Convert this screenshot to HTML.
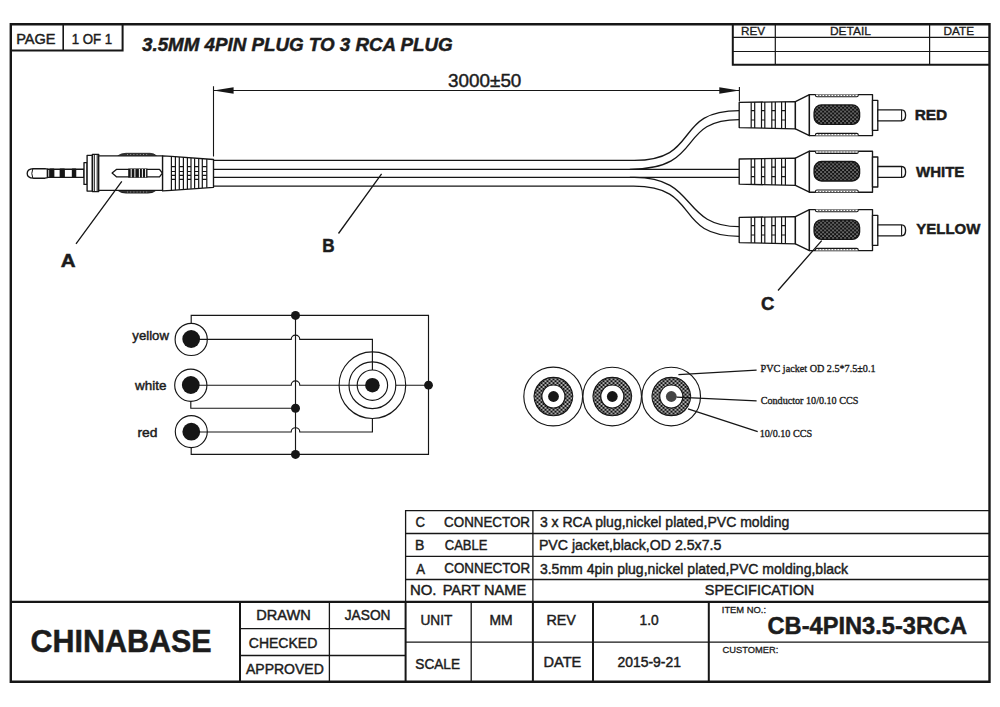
<!DOCTYPE html>
<html><head><meta charset="utf-8"><style>
html,body{margin:0;padding:0;background:#fff;}
body{width:1000px;height:707px;overflow:hidden;}
svg{display:block;}
text{font-family:"Liberation Sans",sans-serif;fill:#1c1c1c;}
</style></head><body>
<svg width="1000" height="707" viewBox="0 0 1000 707">
<defs>
<pattern id="dots" width="4" height="3.8" patternUnits="userSpaceOnUse" x="814.1" y="104.9">
<rect width="4" height="3.8" fill="#121212"/>
<ellipse cx="1" cy="0.95" rx="0.6" ry="0.8" fill="#f2f2f2"/>
<ellipse cx="3" cy="2.85" rx="0.6" ry="0.8" fill="#f2f2f2"/>
</pattern>
<pattern id="dots2" width="4" height="3.8" patternUnits="userSpaceOnUse" x="0.5" y="0.3">
<rect width="4" height="3.8" fill="#121212"/>
<ellipse cx="1" cy="0.95" rx="0.9" ry="0.85" fill="#fafafa"/>
<ellipse cx="3" cy="2.85" rx="0.9" ry="0.85" fill="#fafafa"/>
</pattern>
</defs>
<rect width="1000" height="707" fill="#fff"/>

<!-- ===== FRAME ===== -->
<g fill="none" stroke="#161616">
<path d="M10.8 24.3H989.5V681.8H10.8Z" stroke-width="2.4"/>
<!-- page box -->
<path d="M10.8 50.6H122.6V24.3" stroke-width="2"/>
<path d="M63.2 24.3V50.6" stroke-width="1.6"/>
<!-- rev table -->
<path d="M732.8 24.3V64.8H989.5" stroke-width="2"/>
<path d="M732.8 37.4H989.5M732.8 51.5H989.5M775.3 24.3V64.8M929.6 24.3V64.8" stroke-width="1.2"/>
</g>

<!-- ===== DIMENSION ===== -->
<g stroke="#161616" fill="none" stroke-width="1.1">
<path d="M213.5 86.2V156.5M739.4 87V101.5M213.5 90.5H739.4"/>
</g>
<path d="M213.5 90.5L233.6 87.2V93.8Z M739.4 90.5L719.3 87.2V93.8Z" fill="#161616"/>

<!-- ===== 3.5mm PLUG ===== -->
<g stroke="#161616" fill="#fff" stroke-width="1.35" stroke-linejoin="round">
<!-- tip -->
<path d="M47.5 169.1L45 168.7H33.2Q27.2 169.2 27.2 173.4Q27.2 177.7 33.2 178.2H45L47.5 177.6Z"/>
<path d="M32.8 168.8Q30.8 173.4 32.8 178.1" fill="none" stroke-width="1"/>
<rect x="47.5" y="169.2" width="36.5" height="8.1"/>
<path d="M49.3 169.2V177.3" fill="none" stroke-width="1"/>
<rect x="50.3" y="169.2" width="3.4" height="8.1" fill="#161616"/>
<rect x="60.3" y="169.2" width="3.9" height="8.1" fill="#161616"/>
<rect x="72.5" y="169.2" width="3.1" height="8.1" fill="#161616"/>
<!-- flange -->
<rect x="84" y="162.6" width="3.1" height="21.8"/>
<!-- body -->
<rect x="87.1" y="155.3" width="5.3" height="35.8"/>
<rect x="92.4" y="154.3" width="6.3" height="37.3"/>
<path d="M94.3 154.3V191.6M97.2 154.3V191.6" fill="none" stroke-width="1"/>
<!-- bumps -->
<path d="M117.8 155.8Q121 153.3 126 153.3H150Q154 153.3 156.5 155.8Z" fill="#333" stroke-width="0.8"/>
<path d="M117.8 190.4Q121 193.1 126 193.1H148Q153 193.1 156 190.4Z" fill="#333" stroke-width="0.8"/>
<path d="M127 154.5H149M127 192H147.5" stroke="#bbb" stroke-width="0.7" stroke-dasharray="1 2.2" fill="none"/>
<rect x="98.7" y="155.8" width="63.9" height="34.6"/>
<!-- slot -->
<path d="M112.1 173.1L116.7 169.3H159.5L162.4 173.1L159.5 176.9H116.7Z"/>
<rect x="128.2" y="168.6" width="19.3" height="9" fill="#161616" stroke="none"/>
<path d="M131.2 169V177.3M134.9 169V177.3M139.4 169V177.3M142.4 169V177.3M145.6 169V177.3" stroke="#fff" stroke-width="1"/>
<!-- strain relief -->
<path d="M162.6 155.8L171.4 156.4L213.5 159.5V187.3L171.4 190.3L162.6 190.9Z"/>
<path d="M171.4 156.4V190.3M175.4 156.7V190.0M179.3 157V189.7M183.4 157.3V189.4M187.4 157.6V189.1M191 157.9V188.8M194.6 158.2V188.6M198.7 158.5V188.3M202.3 158.7V188M206.8 159V187.7" fill="none" stroke-width="1.2"/>
<path d="M171.4 166.6H175.4M171.4 171.5H175.4M171.4 175.4H175.4M171.4 179.3H175.4
M179.3 166.6H183.4M179.3 171.5H183.4M179.3 175.4H183.4M179.3 179.3H183.4
M187.4 166.6H191M187.4 171.5H191M187.4 175.4H191M187.4 179.3H191
M194.6 166.6H198.7M194.6 171.5H198.7M194.6 175.4H198.7M194.6 179.3H198.7
M202.3 166.6H206.8M202.3 171.5H206.8M202.3 175.4H206.8M202.3 179.3H206.8" fill="none" stroke-width="1.2"/>
</g>

<!-- ===== CABLE ===== -->
<g stroke="#161616" fill="none" stroke-width="1.3">
<path d="M213.5 160.4H634.2C701.4 160.4 672 110.6 739.2 110.6"/>
<path d="M213.5 169.3H629.8C706 169.3 675.2 119.6 739.2 119.6"/>
<path d="M629.8 169.3H739.2M629.8 177.4H739.2"/>
<path d="M213.5 177.4H634.4C698.6 177.4 679.9 226.7 739.2 226.7"/>
<path d="M213.5 186.2H633.6C701.9 186.2 672.3 236.3 739.2 236.3"/>
</g>

<!-- ===== RCA PLUGS ===== -->
<g id="rca" stroke="#161616" fill="#fff" stroke-width="1.35" stroke-linejoin="round">
<path d="M739.2 102.4L795.4 101.6V128.8L739.2 127.6Z"/>
<path d="M751.2 102.2V127.8M754.7 102.1V127.9M761.5 102.1V128M764.8 102V128.1M771.8 102V128.2M775.3 101.9V128.3M781.6 101.9V128.4M785.4 101.8V128.5" fill="none" stroke-width="1.2"/>
<path d="M751.2 110.6H754.7M751.2 120H754.7M761.5 110.6H764.8M761.5 120H764.8M771.8 110.6H775.3M771.8 120H775.3M781.6 110.6H785.4M781.6 120H785.4" fill="none" stroke-width="1.2"/>
<path d="M795.4 101.6L809.4 94.6V135.6L795.4 128.8Z"/>
<rect x="809.4" y="94.6" width="63.1" height="41"/>
<rect x="814.1" y="104.9" width="45.5" height="19.5" rx="7.5" fill="url(#dots)"/>
<path d="M815.5 94.6V95.6Q815.5 96.8 817 96.8H856.8Q858.2 96.8 858.2 95.6V94.6" fill="#fff" stroke-width="1.1"/>
<path d="M815.5 135.6V134.6Q815.5 133.4 817 133.4H856.8Q858.2 133.4 858.2 134.6V135.6" fill="#fff" stroke-width="1.1"/>
<path d="M818 95.4H856M818 134.8H856" stroke="#555" stroke-width="0.9" stroke-dasharray="1.6 1.4" fill="none"/>
<rect x="872.5" y="100.4" width="5.3" height="30"/>
<path d="M877.8 109.9H901.6Q905.6 109.9 905.6 115.3Q905.6 120.8 901.6 120.8H877.8Z"/>
<path d="M901.6 109.9V120.8" fill="none" stroke-width="1.1"/>
</g>
<use href="#rca" transform="translate(0,56.6)"/>
<use href="#rca" transform="translate(0,115)"/>

<!-- ===== LEADERS ===== -->
<g stroke="#161616" stroke-width="1.3" fill="none">
<path d="M121.8 181.3L76 243.8M381.6 173.9L338.5 233.5M821.7 240.6L778 290.5"/>
</g>

<!-- ===== SCHEMATIC ===== -->
<g stroke="#161616" stroke-width="1.15" fill="none">
<path d="M191.2 323.3V315.4H428.5V454.4H191.2V447.6"/>
<path d="M190.8 401.2V408.2H295.5"/>
<path d="M295.5 315.4V454.4"/>
<path d="M191.2 339.4H291.2A4.3 4.3 0 0 1 299.8 339.4H372.4V370"/>
<path d="M190.8 385.2H291.2A4.3 4.3 0 0 1 299.8 385.2H366"/>
<path d="M191 432H291.2A4.3 4.3 0 0 1 299.8 432H372.4V418.5"/>
<path d="M395.8 385.2H428.5"/>
<circle cx="191.2" cy="339.4" r="16.1"/>
<circle cx="190.8" cy="385.2" r="16.1"/>
<circle cx="191.3" cy="431.6" r="16"/>
<circle cx="372.4" cy="385.2" r="33.3"/>
<circle cx="372.4" cy="385.2" r="23.4"/>
<circle cx="372.4" cy="385.2" r="15.2"/>
</g>
<g fill="#161616">
<circle cx="191.2" cy="339" r="8.9"/>
<circle cx="190.8" cy="385" r="8.9"/>
<circle cx="191.3" cy="431.7" r="8.9"/>
<circle cx="372.4" cy="385.2" r="7.3"/>
<circle cx="295.5" cy="315.4" r="4.5"/>
<circle cx="295.5" cy="408.2" r="4.5"/>
<circle cx="295.5" cy="454.4" r="4.5"/>
<circle cx="428.5" cy="385.2" r="4.4"/>
</g>

<!-- ===== CROSS SECTIONS ===== -->
<g stroke="#161616" stroke-width="1.15">
<circle cx="553.2" cy="396.5" r="29.4" fill="#fff"/>
<circle cx="612.2" cy="396.5" r="29.3" fill="#fff"/>
<circle cx="671.2" cy="396.5" r="29.3" fill="#fff"/>
<path d="M553.4 377.3A19.2 19.2 0 1 1 553.39 377.3Z M553.4 385.0A11.5 11.5 0 1 0 553.41 385.0Z" fill="url(#dots2)" fill-rule="evenodd"/>
<path d="M612.3 377.3A19.2 19.2 0 1 1 612.29 377.3Z M612.3 385.0A11.5 11.5 0 1 0 612.31 385.0Z" fill="url(#dots2)" fill-rule="evenodd"/>
<path d="M671.3 377.3A19.2 19.2 0 1 1 671.29 377.3Z M671.3 385.0A11.5 11.5 0 1 0 671.31 385.0Z" fill="url(#dots2)" fill-rule="evenodd"/>
</g>
<g fill="#161616">
<circle cx="553.5" cy="396.5" r="5.4"/>
<circle cx="612.3" cy="396.5" r="5.4"/>
<circle cx="671.3" cy="396.5" r="5.4" fill="#444"/>
</g>
<g stroke="#161616" stroke-width="1.3" fill="none">
<path d="M678.4 374.7L756.6 370.1M676.5 397.1L756.6 400.8M688 408.9L757.7 431.6"/>
</g>

<!-- ===== PARTS TABLE ===== -->
<g stroke="#161616" fill="none">
<path d="M405.6 601.5V510.6H989.5" stroke-width="1.3"/>
<path d="M405.6 533.5H989.5M405.6 556.3H989.5M405.6 579.5H989.5M532.9 510.6V601.5" stroke-width="1.3"/>
</g>

<!-- ===== TITLE BLOCK ===== -->
<g stroke="#161616" fill="none">
<path d="M10.8 601.9H989.5" stroke-width="2.1"/>
<path d="M240 601.9V681.8M405.6 601.9V681.8M532.9 601.9V681.8M593 601.9V681.8M708.8 601.9V681.8" stroke-width="2"/>
<path d="M329.4 601.9V681.8M471.2 601.9V681.8" stroke-width="1.3"/>
<path d="M240 628.6H405.6M240 655.5H405.6M405.6 642.2H989.5" stroke-width="1.3"/>
</g>

<text x="16.17" y="43.8" font-size="14" stroke="#1c1c1c" stroke-width="0.45" textLength="39.35" lengthAdjust="spacingAndGlyphs">PAGE</text>
<text x="71.65" y="43.8" font-size="14" stroke="#1c1c1c" stroke-width="0.45" textLength="40.53" lengthAdjust="spacingAndGlyphs">1 OF 1</text>
<text x="142.05" y="50.9" font-size="19" font-weight="bold" font-style="italic" stroke="#1c1c1c" stroke-width="0.5" textLength="310.60" lengthAdjust="spacingAndGlyphs">3.5MM 4PIN PLUG TO 3 RCA PLUG</text>
<text x="741.10" y="34.9" font-size="10.5" stroke="#1c1c1c" stroke-width="0.3" textLength="24.10" lengthAdjust="spacingAndGlyphs">REV</text>
<text x="829.90" y="34.9" font-size="10.5" stroke="#1c1c1c" stroke-width="0.3" textLength="40.96" lengthAdjust="spacingAndGlyphs">DETAIL</text>
<text x="943.41" y="34.9" font-size="10.5" stroke="#1c1c1c" stroke-width="0.3" textLength="30.62" lengthAdjust="spacingAndGlyphs">DATE</text>
<text x="448.06" y="87.3" font-size="18.5" stroke="#1c1c1c" stroke-width="0.45" textLength="73.32" lengthAdjust="spacingAndGlyphs">3000±50</text>
<text x="914.65" y="119.8" font-size="14.5" font-weight="bold" stroke="#1c1c1c" stroke-width="0.45" textLength="32.61" lengthAdjust="spacingAndGlyphs">RED</text>
<text x="915.97" y="177.2" font-size="14.5" font-weight="bold" stroke="#1c1c1c" stroke-width="0.45" textLength="48.34" lengthAdjust="spacingAndGlyphs">WHITE</text>
<text x="916.33" y="234.1" font-size="14.5" font-weight="bold" stroke="#1c1c1c" stroke-width="0.45" textLength="64.08" lengthAdjust="spacingAndGlyphs">YELLOW</text>
<text x="60.89" y="266.8" font-size="19" font-weight="bold" stroke="#1c1c1c" stroke-width="0.5" textLength="14.85" lengthAdjust="spacingAndGlyphs">A</text>
<text x="322.22" y="251.7" font-size="18.5" font-weight="bold" stroke="#1c1c1c" stroke-width="0.5" textLength="12.35" lengthAdjust="spacingAndGlyphs">B</text>
<text x="761.08" y="310.3" font-size="18.5" font-weight="bold" stroke="#1c1c1c" stroke-width="0.5" textLength="13.38" lengthAdjust="spacingAndGlyphs">C</text>
<text x="132.35" y="339.7" font-size="13" stroke="#1c1c1c" stroke-width="0.45" textLength="36.54" lengthAdjust="spacingAndGlyphs">yellow</text>
<text x="135.12" y="389.9" font-size="13" stroke="#1c1c1c" stroke-width="0.45" textLength="31.40" lengthAdjust="spacingAndGlyphs">white</text>
<text x="137.43" y="437" font-size="13" stroke="#1c1c1c" stroke-width="0.45" textLength="20.01" lengthAdjust="spacingAndGlyphs">red</text>
<text x="760.59" y="372.3" font-size="10.6" style="font-family:'Liberation Serif',serif" stroke="#1c1c1c" stroke-width="0.35" textLength="114.96" lengthAdjust="spacingAndGlyphs">PVC jacket OD 2.5*7.5±0.1</text>
<text x="760.69" y="404.3" font-size="10.6" style="font-family:'Liberation Serif',serif" stroke="#1c1c1c" stroke-width="0.35" textLength="97.69" lengthAdjust="spacingAndGlyphs">Conductor 10/0.10 CCS</text>
<text x="759.70" y="436.5" font-size="10.6" style="font-family:'Liberation Serif',serif" stroke="#1c1c1c" stroke-width="0.35" textLength="52.49" lengthAdjust="spacingAndGlyphs">10/0.10 CCS</text>
<text x="415.47" y="526.7" font-size="14.7" stroke="#1c1c1c" stroke-width="0.45" textLength="9.48" lengthAdjust="spacingAndGlyphs">C</text>
<text x="444.12" y="526.8" font-size="14" stroke="#1c1c1c" stroke-width="0.45" textLength="85.83" lengthAdjust="spacingAndGlyphs">CONNECTOR</text>
<text x="414.88" y="550.4" font-size="14.7" stroke="#1c1c1c" stroke-width="0.45" textLength="9.37" lengthAdjust="spacingAndGlyphs">B</text>
<text x="444.74" y="550.1" font-size="14" stroke="#1c1c1c" stroke-width="0.45" textLength="42.67" lengthAdjust="spacingAndGlyphs">CABLE</text>
<text x="416.24" y="573.5" font-size="14.7" stroke="#1c1c1c" stroke-width="0.45" textLength="8.76" lengthAdjust="spacingAndGlyphs">A</text>
<text x="444.33" y="573.3" font-size="14" stroke="#1c1c1c" stroke-width="0.45" textLength="85.83" lengthAdjust="spacingAndGlyphs">CONNECTOR</text>
<text x="409.92" y="595.2" font-size="14" stroke="#1c1c1c" stroke-width="0.45" textLength="26.50" lengthAdjust="spacingAndGlyphs">NO.</text>
<text x="442.73" y="595.2" font-size="14" stroke="#1c1c1c" stroke-width="0.45" textLength="83.47" lengthAdjust="spacingAndGlyphs">PART NAME</text>
<text x="539.90" y="526.75" font-size="15.2" stroke="#1c1c1c" stroke-width="0.45" textLength="249.37" lengthAdjust="spacingAndGlyphs">3 x RCA plug,nickel plated,PVC molding</text>
<text x="538.90" y="549.8" font-size="15.2" stroke="#1c1c1c" stroke-width="0.45" textLength="182.49" lengthAdjust="spacingAndGlyphs">PVC jacket,black,OD 2.5x7.5</text>
<text x="539.90" y="573.6" font-size="15.2" stroke="#1c1c1c" stroke-width="0.45" textLength="308.23" lengthAdjust="spacingAndGlyphs">3.5mm 4pin plug,nickel plated,PVC molding,black</text>
<text x="704.86" y="595.1" font-size="14" stroke="#1c1c1c" stroke-width="0.45" textLength="109.39" lengthAdjust="spacingAndGlyphs">SPECIFICATION</text>
<text x="30.48" y="652.0" font-size="32" font-weight="bold" stroke="#1c1c1c" stroke-width="0.5" textLength="181.13" lengthAdjust="spacingAndGlyphs">CHINABASE</text>
<text x="256.27" y="620" font-size="14" stroke="#1c1c1c" stroke-width="0.45" textLength="54.45" lengthAdjust="spacingAndGlyphs">DRAWN</text>
<text x="344.78" y="620" font-size="14" stroke="#1c1c1c" stroke-width="0.45" textLength="45.72" lengthAdjust="spacingAndGlyphs">JASON</text>
<text x="248.79" y="647.5" font-size="14" stroke="#1c1c1c" stroke-width="0.45" textLength="68.48" lengthAdjust="spacingAndGlyphs">CHECKED</text>
<text x="245.99" y="673.8" font-size="14" stroke="#1c1c1c" stroke-width="0.45" textLength="77.83" lengthAdjust="spacingAndGlyphs">APPROVED</text>
<text x="420.50" y="624.7" font-size="14" stroke="#1c1c1c" stroke-width="0.45" textLength="31.90" lengthAdjust="spacingAndGlyphs">UNIT</text>
<text x="415.32" y="668.8" font-size="14" stroke="#1c1c1c" stroke-width="0.45" textLength="44.71" lengthAdjust="spacingAndGlyphs">SCALE</text>
<text x="489.39" y="624.9" font-size="14" stroke="#1c1c1c" stroke-width="0.45" textLength="23.14" lengthAdjust="spacingAndGlyphs">MM</text>
<text x="546.46" y="624.9" font-size="14" stroke="#1c1c1c" stroke-width="0.45" textLength="29.43" lengthAdjust="spacingAndGlyphs">REV</text>
<text x="639.58" y="624.9" font-size="14" stroke="#1c1c1c" stroke-width="0.45" textLength="19.09" lengthAdjust="spacingAndGlyphs">1.0</text>
<text x="543.53" y="666.5" font-size="14" stroke="#1c1c1c" stroke-width="0.45" textLength="37.83" lengthAdjust="spacingAndGlyphs">DATE</text>
<text x="617.48" y="666.5" font-size="14" stroke="#1c1c1c" stroke-width="0.45" textLength="63.47" lengthAdjust="spacingAndGlyphs">2015-9-21</text>
<text x="721.80" y="612.8" font-size="9" stroke="#1c1c1c" stroke-width="0.3" textLength="44.18" lengthAdjust="spacingAndGlyphs">ITEM NO.:</text>
<text x="767.50" y="633.5" font-size="24.5" font-weight="bold" stroke="#1c1c1c" stroke-width="0.5" textLength="199.68" lengthAdjust="spacingAndGlyphs">CB-4PIN3.5-3RCA</text>
<text x="722.53" y="653.3" font-size="9.5" stroke="#1c1c1c" stroke-width="0.3" textLength="55.83" lengthAdjust="spacingAndGlyphs">CUSTOMER:</text>
</svg>
</body></html>
